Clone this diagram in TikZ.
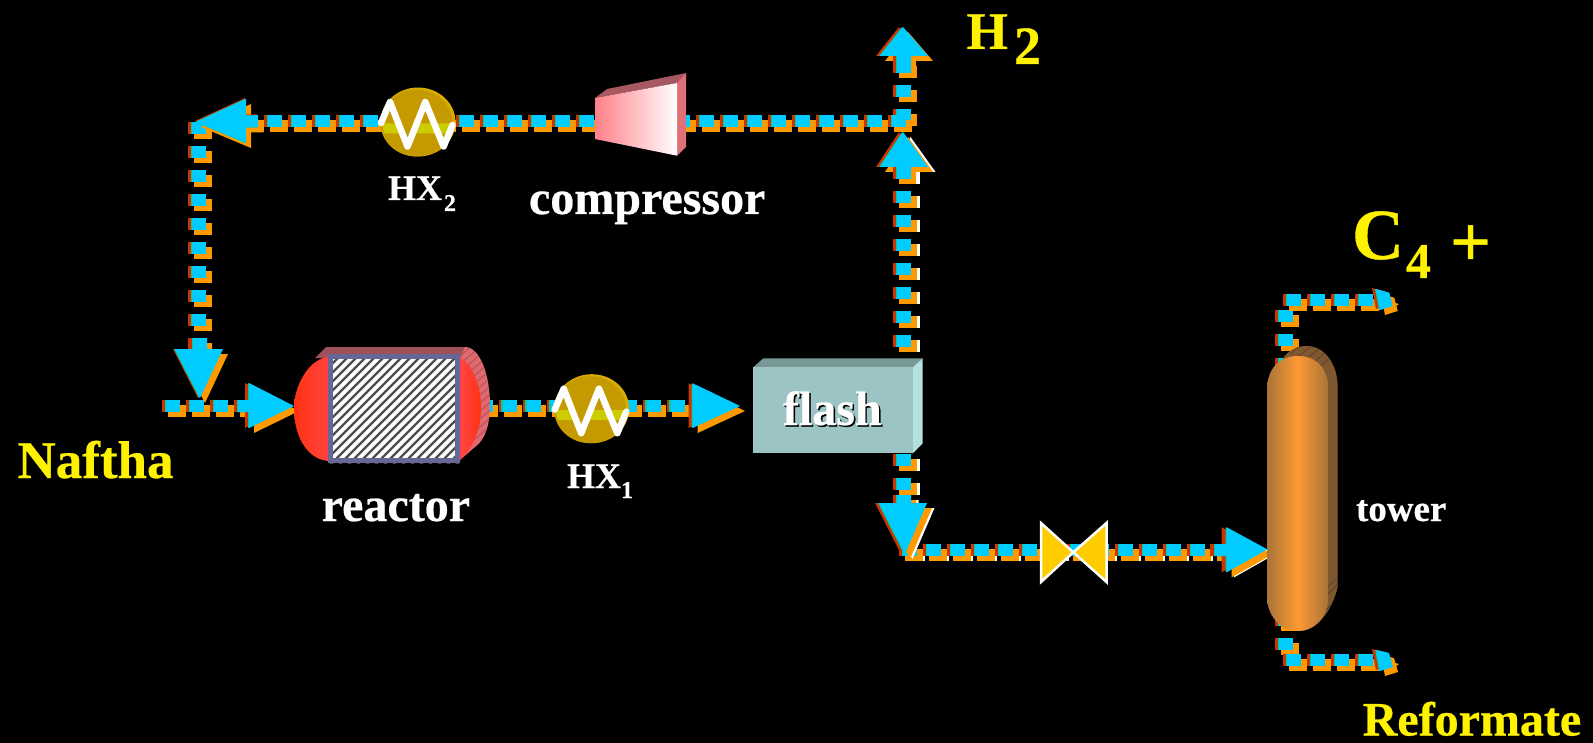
\documentclass[tikz,border=0pt]{standalone}
\usepackage{fontspec}
\setmainfont{Liberation Serif}[BoldFont={Liberation Serif Bold},BoldFeatures={FakeBold=0.5}]
\definecolor{pCyan}{HTML}{00CCFF}
\definecolor{pOrange}{HTML}{FF9900}
\definecolor{pRed}{HTML}{CC3300}
\definecolor{pGreen}{HTML}{00CC99}
\definecolor{hxGold}{HTML}{C49A00}
\definecolor{hxRing}{HTML}{D9AC00}
\definecolor{hxBand}{HTML}{CCCC00}
\definecolor{rTop}{HTML}{A05058}
\definecolor{rBack}{HTML}{E0686E}
\definecolor{rBorder}{HTML}{666699}
\definecolor{rRed}{HTML}{FF3311}
\definecolor{rRedL}{HTML}{FF4444}
\definecolor{fFront}{HTML}{9CC4C4}
\definecolor{fTop}{HTML}{789898}
\definecolor{fSide}{HTML}{B4E0E0}
\definecolor{cTop}{HTML}{A85860}
\definecolor{cSide}{HTML}{E07078}
\definecolor{cFront}{HTML}{FF8088}
\definecolor{valveY}{HTML}{FFCC00}
\definecolor{tBack}{HTML}{805830}
\definecolor{tHatch}{HTML}{5A3E20}
\definecolor{tMid}{HTML}{FF9933}
\definecolor{tEdge}{HTML}{A87438}
\tikzset{
  lbl/.style={inner sep=0pt,outer sep=0pt,anchor=base west,font=\bfseries},
  whitelbl/.style={lbl,text=white},
  yellowlbl/.style={lbl,text=yellow},
  hdash/.style={line width=12pt,dash pattern=on 18pt off 6pt},
  hdashc/.style={line width=12pt,dash pattern=on 14pt off 10pt},
  vdash/.style={line width=18pt,dash pattern=on 12pt off 12pt},
}
\newcommand{\fs}[1]{\fontsize{#1}{#1}\selectfont}
% horizontal pipe from coordinate #1 to coordinate #2
\newcommand{\hpipe}[2]{%
  \draw[hdash,pOrange] ([shift={(5.5,5)}]#1) -- ([shift={(5.5,5)}]#2);
  \draw[hdash,pRed] (#1) -- (#2);
  \draw[hdash,dash pattern=on 15.5pt off 8.5pt,pGreen] ([shift={(2.5,0)}]#1) -- (#2);
  \draw[hdashc,pCyan] ([shift={(4,0)}]#1) -- (#2);
}
\newcommand{\hpipew}[2]{%
  \draw[hdash,white] ([shift={(8,5)}]#1) -- ([shift={(8,5)}]#2);
  \hpipe{#1}{#2}
}
% vertical pipe
\newcommand{\vpipe}[2]{%
  \draw[vdash,pOrange] ([shift={(5.5,5)}]#1) -- ([shift={(5.5,5)}]#2);
  \draw[vdash,pRed] (#1) -- (#2);
  \draw[vdash,line width=15.5pt,pGreen] ([shift={(1.25,0)}]#1) -- ([shift={(1.25,0)}]#2);
  \draw[vdash,line width=14pt,pCyan] ([shift={(2,0)}]#1) -- ([shift={(2,0)}]#2);
}
\newcommand{\vpipew}[2]{%
  \draw[vdash,white] ([shift={(8.5,5)}]#1) -- ([shift={(8.5,5)}]#2);
  \vpipe{#1}{#2}
}
% layered arrow head: #1 red shift, #2 path
\newcommand{\head}[2]{%
  \fill[pOrange,shift={(5,5)}] #2;
  \fill[pRed,shift={#1}] #2;
  \fill[pGreen,shift={(-1,0)}] #2;
  \fill[pCyan] #2;
}
\newcommand{\headw}[2]{%
  \fill[white,shift={(7.5,5)}] #2;
  \head{#1}{#2}
}
% heat exchanger at #1
\newcommand{\hx}[1]{%
  \begin{scope}[shift={#1}]
    \fill[hxRing] (0,0) ellipse [x radius=37.5,y radius=34.5];
    \fill[hxGold] (-1.5,1) ellipse [x radius=36,y radius=33.5];
    \fill[hxBand] (-36,1.5) -- (-19.7,1.5) -- (-15.8,11.5) -- (-34,11.5) -- cycle;
    \fill[hxBand] (-2.2,1.5) -- (35,1.5) -- (33,11.5) -- (-5.9,11.5) -- cycle;
    \draw[white,line width=6.5pt,line cap=round,line join=round]
      (-37,1) -- (-28,-20) -- (-10.5,24.5) -- (7.3,-20) -- (25.6,24.5) -- (34.6,3);
  \end{scope}
}
\begin{document}
\begin{tikzpicture}[x=1pt,y=-1pt]
\useasboundingbox (0,0) rectangle (1593,743);
\fill[black] (0,0) rectangle (1593,743);

% connector end points
\coordinate (feedA) at (162,406);      \coordinate (feedB) at (252,406);
\coordinate (rOutA) at (474.7,406);    \coordinate (rOutB) at (686,406);
\coordinate (topA) at (240,121.5);     \coordinate (topB) at (906,121.5);
\coordinate (downA) at (197,122);      \coordinate (downB) at (197,350);
\coordinate (upA) at (902,167);        \coordinate (upB) at (902,347);
\coordinate (h2A) at (902,61);         \coordinate (h2B) at (902,121);
\coordinate (fBotA) at (902,454);      \coordinate (fBotB) at (902,514);
\coordinate (botA) at (899,550);       \coordinate (botB) at (1229,550);
\coordinate (tTopVA) at (1284,310);    \coordinate (tTopVB) at (1284,370);
\coordinate (tTopHA) at (1283,300);    \coordinate (tTopHB) at (1373,300);
\coordinate (tBotVA) at (1284,614);    \coordinate (tBotVB) at (1284,650);
\coordinate (tBotHA) at (1283,660);    \coordinate (tBotHB) at (1373,660);

% pipes
\vpipe{h2A}{h2B}
\hpipe{topA}{topB}
\vpipe{downA}{downB}
\hpipe{feedA}{feedB}
\hpipe{rOutA}{rOutB}
\vpipew{upA}{upB}
\vpipew{fBotA}{fBotB}
\hpipew{botA}{botB}
\vpipe{tTopVA}{tTopVB}
\hpipe{tTopHA}{tTopHB}
\vpipe{tBotVA}{tBotVB}
\hpipe{tBotHA}{tBotHB}

% arrow heads
\head{(-2,0)}{(193,338) -- (207,338) -- (207,349) -- (223,349) -- (200,398) -- (175,349) -- (193,349) -- cycle}
\head{(-4,0)}{(238,400) -- (249,400) -- (249,383) -- (294,406) -- (249,428) -- (249,412) -- (238,412) -- cycle}
\head{(-1,-1)}{(258,115.5) -- (246,115.5) -- (246,99) -- (196,122) -- (246,143) -- (246,127.5) -- (258,127.5) -- cycle}
\headw{(-4,0)}{(903,132) -- (928,167) -- (911,167) -- (911,179) -- (897,179) -- (897,167) -- (880,167) -- cycle}
\head{(-4,0)}{(903,27) -- (928,56) -- (911,56) -- (911,73) -- (897,73) -- (897,56) -- (880,56) -- cycle}
\headw{(-4,0)}{(897,495) -- (911,495) -- (911,503) -- (927,503) -- (905,554) -- (879,503) -- (897,503) -- cycle}
\head{(-4,0)}{(692.7,383.3) -- (692.7,428) -- (740,406) -- cycle}
\headw{(-5,0)}{(1215,544) -- (1226.7,544) -- (1226.7,527.3) -- (1267.3,549.3) -- (1226.7,572.3) -- (1226.7,556) -- (1215,556) -- cycle}
% slanted pipe ends
\fill[pOrange] (1395,303) -- (1399,304) -- (1395,307) -- cycle;
\head{(-4,-1)}{(1376,289) -- (1389.3,292.7) -- (1392.7,306) -- (1380,310) -- cycle}
\fill[pOrange] (1395,663) -- (1399,664) -- (1395,667) -- cycle;
\head{(-4,-1)}{(1376,650) -- (1389,653) -- (1393,667) -- (1380,671) -- cycle}

% reactor
\fill[rBack] (455,347) -- (465,347) .. controls (480,347) and (490,375) .. (490,405)
  .. controls (490,425) and (485,440) .. (475,447) -- (460,460) -- cycle;
\begin{scope}
  \clip (465,347) .. controls (480,347) and (490,375) .. (490,405)
    .. controls (490,425) and (485,440) .. (475,447) -- (460,460) -- (460,347) -- cycle;
  \foreach \k in {0,8,...,96}
    \draw[rTop,line width=.7pt] (460,356+\k) -- (495,326+\k);
\end{scope}
\fill[rTop] (315,358) -- (326,347) -- (465,347) -- (460,358) -- cycle;
\shade[left color=rRed,right color=rRedL] (330,357) .. controls (310,357) and (294,385) .. (294,408)
  .. controls (294,440) and (310,461) .. (330,461) -- cycle;
\shade[left color=rRedL,right color=rRed] (460,357) .. controls (472,365) and (481,385) .. (481,408)
  .. controls (481,430) and (472,450) .. (460,460) -- cycle;
\fill[white] (328,354) rectangle (460,463);
\begin{scope}
  \clip (328,354) rectangle (460,463);
  \foreach \k in {190,199,...,470}
    \draw[black!70,line width=2.3pt] (\k,470) -- (\k+125,345);
\end{scope}
\draw[rBorder,line width=5pt] (330.5,356.5) rectangle (457.5,460.5);

% heat exchangers
\hx{(591.7,408.7)}
\hx{(418,122)}

% compressor
\fill[cTop] (595,98) -- (607,89) -- (686,73) -- (677,83) -- cycle;
\fill[cSide] (686,73) -- (686,147) -- (677,155.7) -- (677,83) -- cycle;
\shade[left color=cFront,right color=white] (595,98) -- (677,83) -- (677,155.7) -- (595,139) -- cycle;

% flash drum
\fill[fTop] (753.3,367.3) -- (763.3,358.3) -- (922.7,358.3) -- (912.7,367.3) -- cycle;
\fill[fSide] (922.7,358.3) -- (922.7,443.3) -- (912.7,453.3) -- (912.7,367.3) -- cycle;
\fill[fFront] (753.3,367.3) rectangle (912.7,453.3);

% valve
\filldraw[white,fill=valveY,line width=2.5pt,line join=miter]
  (1041,523) -- (1073.3,552.3) -- (1041,582) -- cycle;
\filldraw[white,fill=valveY,line width=2.5pt,line join=miter]
  (1106.5,523) -- (1073.3,552.3) -- (1106.5,582) -- cycle;

% tower
\fill[tBack] (1283,358) .. controls (1290,349) and (1298,346) .. (1306.7,346)
  .. controls (1326,346) and (1337.7,366) .. (1337.7,387) -- (1337.7,587)
  .. controls (1332,610) and (1318,631) .. (1298,631) -- cycle;
\begin{scope}
  \clip (1283,358) .. controls (1290,349) and (1298,346) .. (1306.7,346)
    .. controls (1326,346) and (1337.7,366) .. (1337.7,387) -- (1337.7,587)
    .. controls (1332,610) and (1318,631) .. (1298,631) -- cycle;
  \foreach \k in {0,9,...,45}
    \draw[tHatch,line width=.7pt] (1290,345+\k) -- (1340,305+\k);
  \foreach \k in {0,7,21}
    \draw[tHatch,line width=.7pt] (1325,590+\k) -- (1340,575+\k);
\end{scope}
\shade[left color=tEdge,right color=tEdge,middle color=tMid]
  (1267,390) .. controls (1267,368) and (1280,356) .. (1298,356)
  .. controls (1316,356) and (1328.3,368) .. (1328.3,390) -- (1328.3,597)
  .. controls (1328.3,615) and (1316,631) .. (1298,631)
  .. controls (1280,631) and (1267,615) .. (1267,597) -- cycle;

% labels
\node[yellowlbl] (naftha) at (17.5,478) {\fs{53}Naftha};
\node[whitelbl] (reactorT) at (321.7,521) {\fs{48}reactor};
\node[whitelbl] (hxoneT) at (567,488) {\fs{36}HX};
\node[whitelbl] (hxoneS) at (621,498) {\fs{24}1};
\node[whitelbl] (hxtwoT) at (388,200) {\fs{36}HX};
\node[whitelbl] (hxtwoS) at (444,211) {\fs{24}2};
\node[whitelbl] (compT) at (529,214) {\fs{48}compressor};
\node[lbl,text=black] (flashS) at (784.5,426.5) {\fs{48}flash};
\node[whitelbl] (flashT) at (783,425) {\fs{48}flash};
\node[whitelbl] (towerT) at (1356,521) {\fs{37}tower};
\node[yellowlbl] (reform) at (1362.7,735.5) {\fs{48}Reformate};
\node[yellowlbl] (hT) at (966.7,49) {\fs{53}H};
\node[yellowlbl] (hS) at (1014,64) {\fs{54}2};
\node[yellowlbl] (cT) at (1352,259) {\fs{72}C};
\node[yellowlbl] (cS) at (1406,278) {\fs{50}4};
\node[yellowlbl] (cP) at (1450,266) {\fs{72}+};
\end{tikzpicture}
\end{document}
